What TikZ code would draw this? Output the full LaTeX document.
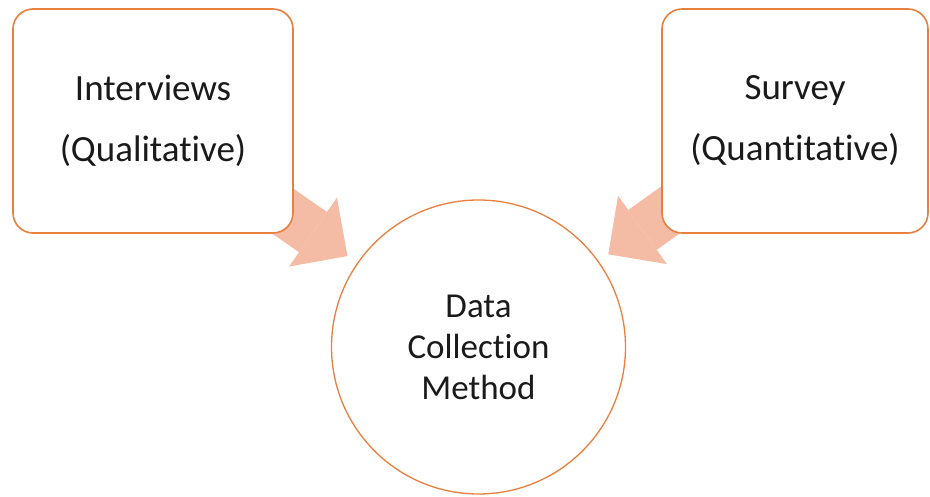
\documentclass[tikz,border=0pt]{standalone}
\usepackage{fontspec}
\setmainfont{Carlito}[Ligatures={NoCommon,NoContextual,NoRare}, Contextuals={NoAlternate}]
\usetikzlibrary{arrows.meta,backgrounds}
\definecolor{edgeorange}{HTML}{E97F3C}
\definecolor{arrowfill}{HTML}{F4BBA5}
\definecolor{inktext}{HTML}{1A1A1A}
% keeps "t" and "i" as separate glyphs
\newcommand{\tisplit}{t\kern0pt i}
\tikzset{
  methodbox/.style={draw=edgeorange, line width=1.6pt, fill=white, rounded corners=20pt,
    align=center, text=inktext, outer sep=0pt, inner sep=0pt,
    font=\fontsize{37}{61}\selectfont},
  hubcircle/.style={circle, draw=edgeorange, line width=1.3pt, fill=white,
    minimum size=294pt, inner sep=0pt, outer sep=0pt, align=center, text=inktext,
    font=\fontsize{35}{41}\selectfont},
  blockarrow/.style={draw=arrowfill, line width=49pt,
    -{Triangle[length=42pt, width=84pt, line width=0pt]}, shorten >=12.5pt}
}
\begin{document}
\begin{tikzpicture}[x=1pt, y=-1pt]
\useasboundingbox (0,0) rectangle (930,497);
\node[methodbox, minimum width=280pt, minimum height=224pt] (interviews) at (153,121)
  {Interviews\\(Qualita\tisplit ve)};
\node[methodbox, minimum width=266pt, minimum height=224pt] (survey) at (795,121)
  {Survey\\(Quan\tisplit ta\tisplit ve)};
\node[hubcircle] (hub) at (478.5,347) {Data\\Collection\\Method};
\begin{pgfonlayer}{background}
  \draw[blockarrow] (interviews.center) -- (hub);
  \draw[blockarrow] (survey.center) -- (hub);
\end{pgfonlayer}
\end{tikzpicture}
\end{document}
